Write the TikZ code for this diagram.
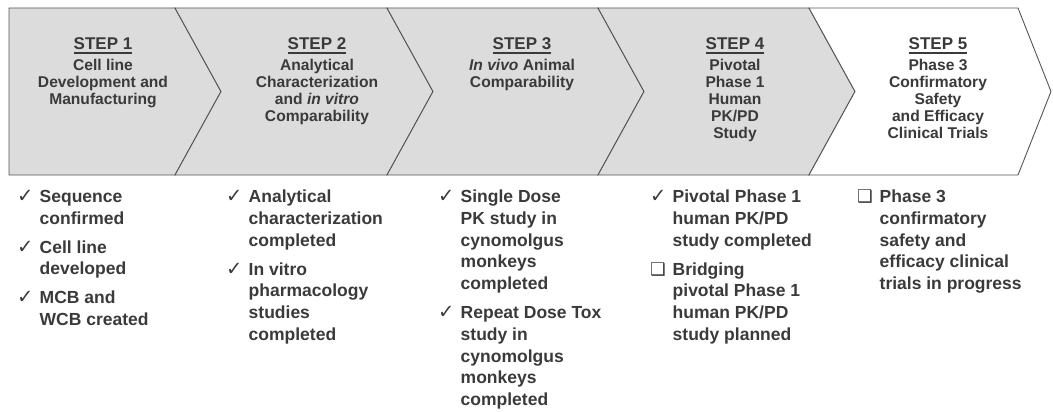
\documentclass[tikz,border=0pt]{standalone}
\usepackage{fontspec}
\setmainfont{Liberation Sans}
\newfontfamily\symfont{DejaVu Sans}
\usetikzlibrary{positioning}
\definecolor{ink}{RGB}{58,58,58}
\definecolor{chevgray}{RGB}{220,220,220}
\definecolor{edgegray}{RGB}{85,85,85}
\newcommand{\done}{\makebox[22.5pt][l]{\smash{\symfont\bfseries\fontsize{19.5}{19}\selectfont ✓}}}
\newcommand{\todo}{\makebox[22.5pt][l]{\smash{\symfont\fontsize{17.5}{17}\selectfont ❑}}}
\newcommand{\hang}{\hspace*{22.5pt}}
\tikzset{
  chev/.style={draw=edgegray, line width=0.9pt, fill=chevgray, line join=miter},
  steptitle/.style={font=\fontsize{17}{17}\selectfont\bfseries, text=ink, inner sep=0pt, anchor=north},
  stepbody/.style={font=\fontsize{15.6}{16.8}\selectfont\bfseries, align=center, text=ink, inner sep=0pt, anchor=north},
  itemlist/.style={font=\fontsize{17.5}{21.7}\selectfont\bfseries, align=left, text=ink, inner sep=0pt, anchor=north west},
  uline/.style={draw=ink, line width=2pt}
}
\begin{document}
\begin{tikzpicture}[x=1pt, y=-1pt, line join=round]
\useasboundingbox (0,0) rectangle (1053,412);
% chevron band
\draw[chev] (9,8) -- (175,8) -- (221,91.5) -- (175,175) -- (9,175) -- cycle;
\draw[chev] (175,8) -- (387,8) -- (433,91.5) -- (387,175) -- (175,175) -- (221,91.5) -- cycle;
\draw[chev] (387,8) -- (598,8) -- (644,91.5) -- (598,175) -- (387,175) -- (433,91.5) -- cycle;
\draw[chev] (598,8) -- (809,8) -- (855,91.5) -- (809,175) -- (598,175) -- (644,91.5) -- cycle;
\draw[chev, fill=white] (809,8) -- (1018,8) -- (1051,91.5) -- (1018,175) -- (809,175) -- (855,91.5) -- cycle;
% step titles
\node[steptitle] (step1) at (103,37) {STEP 1};
\node[steptitle] (step2) at (317,37) {STEP 2};
\node[steptitle] (step3) at (522,37) {STEP 3};
\node[steptitle] (step4) at (735,37) {STEP 4};
\node[steptitle] (step5) at (938,37) {STEP 5};
\foreach \s in {step1,step2,step3,step4,step5}
  \draw[uline] ([yshift=-3.2pt]\s.south west) -- ([yshift=-3.2pt]\s.south east);
% step texts
\node[stepbody, below=10pt of step1] (body1) {Cell line\\Development and\\Manufacturing};
\node[stepbody, below=10pt of step2] (body2) {Analytical\\Characterization\\and \textit{in vitro}\\Comparability};
\node[stepbody, below=10pt of step3] (body3) {\textit{In vivo} Animal\\Comparability};
\node[stepbody, below=10pt of step4] (body4) {Pivotal\\Phase 1\\Human\\PK/PD\\Study};
\node[stepbody, below=10pt of step5] (body5) {Phase 3\\Confirmatory\\Safety\\and Efficacy\\Clinical Trials};
% status lists
\node[itemlist] (list1) at (17,190) {\done Sequence\\\hang confirmed\\[7.3pt]\done Cell line\\\hang developed\\[7.3pt]\done MCB and\\\hang WCB created};
\node[itemlist] (list2) at (226,190) {\done Analytical\\\hang characterization\\\hang completed\\[7.3pt]\done In vitro\\\hang pharmacology\\\hang studies\\\hang completed};
\node[itemlist] (list3) at (438,190) {\done Single Dose\\\hang PK study in\\\hang cynomolgus\\\hang monkeys\\\hang completed\\[7.3pt]\done Repeat Dose Tox\\\hang study in\\\hang cynomolgus\\\hang monkeys\\\hang completed};
\node[itemlist] (list4) at (650,190) {\done Pivotal Phase 1\\\hang human PK/PD\\\hang study completed\\[7.3pt]\todo Bridging\\\hang pivotal Phase 1\\\hang human PK/PD\\\hang study planned};
\node[itemlist] (list5) at (857,190) {\todo Phase 3\\\hang confirmatory\\\hang safety and\\\hang efficacy clinical\\\hang trials in progress};
\end{tikzpicture}
\end{document}
